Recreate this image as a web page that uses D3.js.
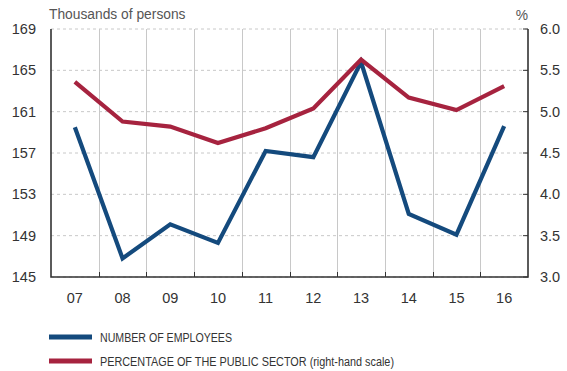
<!DOCTYPE html>
<html>
<head>
<meta charset="utf-8">
<script src="https://cdn.jsdelivr.net/npm/d3@7"></script>
<style>
  html, body { margin: 0; padding: 0; background: #fff; }
  svg { display: block; font-family: "Liberation Sans", Arial, sans-serif; }
</style>
</head>
<body>
<svg id="chart" width="567" height="371"></svg>
<script>
// Years (two-digit labels)
const years = ["07", "08", "09", "10", "11", "12", "13", "14", "15", "16"];
// Public-sector employees, thousands of persons (left scale)
const employees = [159.5, 146.8, 150.1, 148.3, 157.2, 156.6, 165.8, 151.1, 149.1, 159.6];
// Share of the public sector, % (right scale)
const publicShare = [5.36, 4.88, 4.82, 4.62, 4.80, 5.04, 5.63, 5.17, 5.02, 5.31];
// Axis ticks
const leftTicks = [145, 149, 153, 157, 161, 165, 169];
const rightTicks = [3.0, 3.5, 4.0, 4.5, 5.0, 5.5, 6.0];
// Legend entries
const legendLabels = ["NUMBER OF EMPLOYEES", "PERCENTAGE OF THE PUBLIC SECTOR (right-hand scale)"];

const blue = "#144a7d";
const red = "#a6233f";
const gridColor = "#c8c8c8";
const axisColor = "#333";
const textColor = "#333";

const svg = d3.select("#chart");
const m = { left: 51, right: 528, top: 29, bottom: 277 };

const x = d3.scaleBand().domain(years).range([m.left, m.right]).padding(0);
const yL = d3.scaleLinear().domain([145, 169]).range([m.bottom, m.top]);
const yR = d3.scaleLinear().domain([3.0, 6.0]).range([m.bottom, m.top]);

// Horizontal dashed gridlines
svg.append("g")
  .selectAll("line")
  .data(leftTicks)
  .join("line")
  .attr("x1", m.left).attr("x2", m.right)
  .attr("y1", d => yL(d)).attr("y2", d => yL(d))
  .attr("stroke", gridColor)
  .attr("stroke-width", 1)
  .attr("stroke-dasharray", "3,3");

// Vertical gridlines at the boundaries between years
const bounds = years.slice(1).map(d => x(d));
svg.append("g")
  .selectAll("line")
  .data(bounds)
  .join("line")
  .attr("x1", d => Math.round(d) + 0.5).attr("x2", d => Math.round(d) + 0.5)
  .attr("y1", m.top).attr("y2", m.bottom)
  .attr("stroke", gridColor)
  .attr("stroke-width", 1);

// Small tick marks on the bottom axis
svg.append("g")
  .selectAll("line")
  .data(bounds)
  .join("line")
  .attr("x1", d => Math.round(d) + 0.5).attr("x2", d => Math.round(d) + 0.5)
  .attr("y1", m.bottom - 5).attr("y2", m.bottom)
  .attr("stroke", axisColor)
  .attr("stroke-width", 1);

// Right axis tick marks pointing inwards
svg.append("g")
  .selectAll("line")
  .data(rightTicks)
  .join("line")
  .attr("x1", m.right - 5).attr("x2", m.right)
  .attr("y1", d => yR(d)).attr("y2", d => yR(d))
  .attr("stroke", axisColor)
  .attr("stroke-width", 1);

// Axis lines: left, bottom, right
svg.append("path")
  .attr("d", `M${m.left},${m.top}V${m.bottom}H${m.right}V${m.top}`)
  .attr("fill", "none")
  .attr("stroke", axisColor)
  .attr("stroke-width", 1.6);

// Left tick labels
svg.append("g")
  .selectAll("text")
  .data(leftTicks)
  .join("text")
  .attr("x", 36)
  .attr("y", d => yL(d) + 5)
  .attr("text-anchor", "end")
  .attr("font-size", 14.5)
  .attr("fill", textColor)
  .text(d => d);

// Right tick labels
svg.append("g")
  .selectAll("text")
  .data(rightTicks)
  .join("text")
  .attr("x", 540)
  .attr("y", d => yR(d) + 5)
  .attr("text-anchor", "start")
  .attr("font-size", 14.5)
  .attr("fill", textColor)
  .text(d => d.toFixed(1));

// Year labels
svg.append("g")
  .selectAll("text")
  .data(years)
  .join("text")
  .attr("x", d => x(d) + x.bandwidth() / 2)
  .attr("y", 303)
  .attr("text-anchor", "middle")
  .attr("font-size", 14.5)
  .attr("fill", textColor)
  .text(d => d);

// Unit titles
svg.append("text")
  .attr("x", 49).attr("y", 19)
  .attr("font-size", 13.8)
  .attr("fill", "#555")
  .text("Thousands of persons");
svg.append("text")
  .attr("x", 522).attr("y", 20)
  .attr("text-anchor", "middle")
  .attr("font-size", 13.8)
  .attr("fill", "#555")
  .text("%");

// Series lines
const cx = d => x(d) + x.bandwidth() / 2;
const lineL = d3.line().x((d, i) => cx(years[i])).y(d => yL(d));
const lineR = d3.line().x((d, i) => cx(years[i])).y(d => yR(d));

svg.append("path")
  .datum(employees)
  .attr("d", lineL)
  .attr("fill", "none")
  .attr("stroke", blue)
  .attr("stroke-width", 4.2)
  .attr("stroke-linejoin", "miter");

svg.append("path")
  .datum(publicShare)
  .attr("d", lineR)
  .attr("fill", "none")
  .attr("stroke", red)
  .attr("stroke-width", 4.2)
  .attr("stroke-linejoin", "miter");

// Legend
const legendColors = [blue, red];
const legendWidths = [132, 294];
const legendY = [337, 361];
const lg = svg.append("g");
legendLabels.forEach((label, i) => {
  lg.append("rect")
    .attr("x", 49).attr("y", legendY[i] - 2.5)
    .attr("width", 43).attr("height", 5)
    .attr("fill", legendColors[i]);
  lg.append("text")
    .attr("x", 100).attr("y", legendY[i] + 4.5)
    .attr("font-size", 12.5)
    .attr("fill", textColor)
    .attr("textLength", legendWidths[i])
    .attr("lengthAdjust", "spacingAndGlyphs")
    .text(label);
});
</script>
</body>
</html>
